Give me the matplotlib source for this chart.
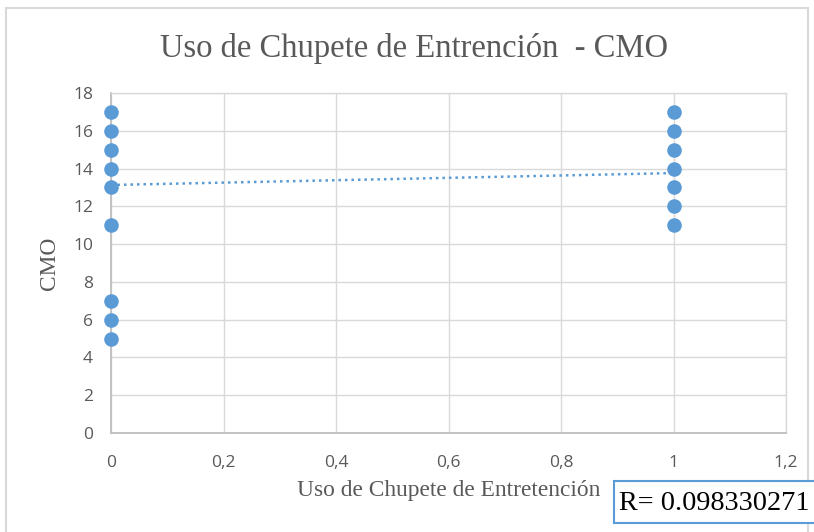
import matplotlib
matplotlib.use("Agg")
import matplotlib.pyplot as plt
from matplotlib.patches import Rectangle
from matplotlib.ticker import FixedLocator

# Observations: pacifier use (0 = no, 1 = yes) vs CMO score
uso_no = [0, 0, 0, 0, 0, 0, 0, 0, 0]
cmo_no = [17, 16, 15, 14, 13, 11, 7, 6, 5]
uso_si = [1, 1, 1, 1, 1, 1, 1]
cmo_si = [17, 16, 15, 14, 13, 12, 11]

# Linear trend line end points
trend_x = [0, 1]
trend_y = [13.13, 13.76]

x_ticks = [0, 0.2, 0.4, 0.6, 0.8, 1.0, 1.2]
x_tick_labels = ["0", "0,2", "0,4", "0,6", "0,8", "1", "1,2"]
y_ticks = [0, 2, 4, 6, 8, 10, 12, 14, 16, 18]

title = "Uso de Chupete de Entrención  - CMO"
x_label = "Uso de Chupete de Entretención"
y_label = "CMO"
r_text = "R= 0.098330271"

BLUE = "#5B9BD5"
GRID = "#D9D9D9"
TICK = "#595959"

W, H = 814, 532
fig = plt.figure(figsize=(W / 100, H / 100), dpi=100)

# outer chart frame
fig.patches.append(Rectangle((6 / W, -0.05), (808 - 6) / W, 1.05 - 8 / H,
                             transform=fig.transFigure, fill=False,
                             edgecolor="#D9D9D9", linewidth=1.5))

ax = fig.add_axes([111 / W, 1 - 433 / H, (786 - 111) / W, (433 - 93) / H])
ax.set_xlim(0, 1.2)
ax.set_ylim(0, 18)
ax.xaxis.set_major_locator(FixedLocator(x_ticks))
ax.set_xticklabels(x_tick_labels)
ax.yaxis.set_major_locator(FixedLocator(y_ticks))
ax.grid(True, color=GRID, linewidth=1.0)
ax.set_axisbelow(True)
for side in ["top", "right"]:
    ax.spines[side].set_color(GRID)
    ax.spines[side].set_linewidth(1.0)
for side in ["left", "bottom"]:
    ax.spines[side].set_color("#BFBFBF")
    ax.spines[side].set_linewidth(1.3)
ax.tick_params(axis="x", length=0, pad=16, labelsize=12.5, labelcolor=TICK)
ax.tick_params(axis="y", length=0, pad=13, labelsize=12.5, labelcolor=TICK)
for lab in ax.get_xticklabels() + ax.get_yticklabels():
    lab.set_fontfamily("Open Sans")

ax.plot(trend_x, trend_y, linestyle=(0, (1, 1.6)), color=BLUE, linewidth=1.8,
        zorder=2)
ax.scatter(uso_no, cmo_no, s=110, color=BLUE, zorder=3, clip_on=False,
           linewidths=0)
ax.scatter(uso_si, cmo_si, s=110, color=BLUE, zorder=3, clip_on=False,
           linewidths=0)

fig.text(414 / W, 1 - 57 / H, title, ha="center", va="baseline",
         fontfamily="Liberation Serif", fontsize=23.5, color=TICK)
fig.text(449 / W, 1 - 496 / H, x_label, ha="center", va="baseline",
         fontfamily="Liberation Serif", fontsize=16.8, color=TICK)
fig.text(49 / W, 1 - 263 / H, y_label, ha="center", va="center",
         rotation=90, fontfamily="Liberation Serif", fontsize=16.8,
         color=TICK)

# correlation box
fig.patches.append(Rectangle((614 / W, 1 - 523 / H), 220 / W, 42 / H,
                             transform=fig.transFigure, fill=True,
                             facecolor="white", edgecolor=BLUE, linewidth=1.5))
fig.text(619 / W, 1 - 510 / H, r_text, ha="left", va="baseline",
         fontfamily="Liberation Serif", fontsize=20.3, color="black")

fig.savefig("out.png", dpi=100)
